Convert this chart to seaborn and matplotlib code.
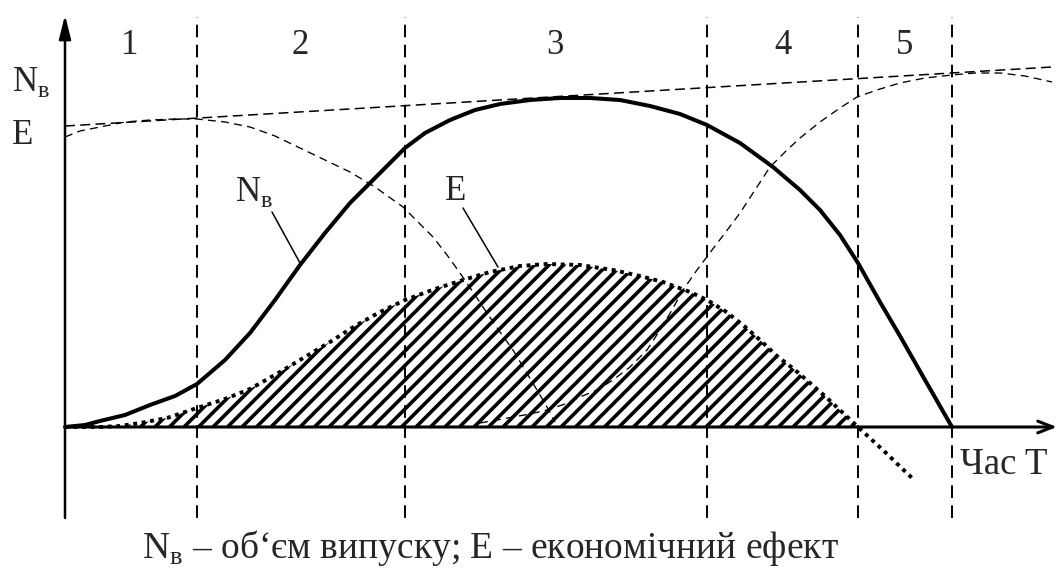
import matplotlib
matplotlib.use("Agg")
import matplotlib.pyplot as plt
import seaborn as sns
import numpy as np

sns.set_theme(style="white")
plt.rcParams["font.family"] = ["Liberation Serif", "DejaVu Serif"]
plt.rcParams["mathtext.fontset"] = "custom"
plt.rcParams["mathtext.rm"] = "Liberation Serif"

# ------------------------------
# data (time units / value units)
# ------------------------------
# output volume N_v
nv_t = [0, 2.0, 3.5, 6.0, 8.5, 11.0, 13.2, 16.0, 18.5, 21.0, 23.5, 26.0,
        28.5, 31.0, 34.0, 36.0, 38.5, 41.0, 43.5, 46.5, 49.5, 52.5, 55.5,
        58.5, 61.5, 64.2, 67.5, 70.8, 73.5, 75.5, 77.5, 79.3, 81.5, 83.5,
        86.0, 88.7]
nv_v = [0, 0.2, 0.6, 1.2, 2.2, 3.1, 4.3, 6.7, 9.4, 12.7, 16.2, 19.4,
        22.4, 24.9, 27.9, 29.4, 30.7, 31.7, 32.3, 32.7, 32.9, 32.9, 32.7,
        32.1, 31.3, 30.2, 28.4, 26.0, 23.7, 21.7, 19.2, 16.4, 12.5, 9.1,
        4.7, 0]

# economic effect E
e_t = [0, 3.5, 5.5, 7.5, 10.2, 13.2, 16.0, 18.5, 21.5, 23.5, 26.5, 29.0,
       31.5, 34.0, 37.0, 39.8, 42.5, 45.5, 48.2, 51.5, 54.8, 57.5, 59.8,
       62.5, 64.2, 66.0, 67.8, 69.5, 71.2, 73.0, 74.5, 76.2, 77.8, 79.3,
       82.0, 84.7]
e_v = [0, 0, 0.1, 0.4, 0.9, 1.9, 2.8, 3.8, 5.5, 6.7, 8.5, 10.1,
       11.5, 12.7, 13.8, 14.7, 15.5, 16.1, 16.3, 16.2, 15.7, 15.1, 14.5,
       13.5, 12.7, 11.6, 10.2, 8.7, 7.1, 5.7, 4.4, 2.9, 1.4, 0,
       -2.5, -5.1]

# thin dashed curves
fall_t = [0, 1.5, 3.5, 6.0, 8.5, 11.0, 13.2, 16.0, 18.5, 21.0, 23.5, 26.0,
          28.5, 31.0, 33.8, 35.5, 36.8, 38.2, 39.5, 41.0, 42.2, 43.5, 44.8,
          46.0, 47.2, 48.2, 49.0]
fall_v = [29.0, 29.6, 30.0, 30.5, 30.7, 30.8, 30.8, 30.5, 30.0, 29.1, 27.9,
          26.7, 25.5, 24.0, 22.0, 20.3, 19.0, 17.2, 15.4, 13.2, 11.4, 9.5,
          7.7, 5.7, 3.7, 2.0, 0.5]

rise_t = [41.5, 43.2, 44.8, 46.5, 48.2, 50.0, 51.5, 53.2, 54.8, 56.5, 58.2,
          59.5, 60.7, 61.8, 63.2, 64.7, 66.0, 67.5, 69.0, 70.5, 72.0, 73.5,
          75.5, 77.5, 79.2, 81.5, 83.5, 86.0, 88.7, 91.0, 93.5, 96.0, 98.7]
rise_v = [0.4, 0.7, 1.0, 1.3, 1.7, 2.3, 3.0, 3.7, 4.7, 6.0, 7.7,
          9.7, 11.7, 13.7, 15.7, 17.7, 19.4, 21.4, 23.7, 26.0, 27.5, 28.9,
          30.5, 31.9, 33.0, 33.8, 34.4, 34.9, 35.2, 35.4, 35.4, 35.1, 34.5]

env_t = [0, 98.7]
env_v = [30.1, 36.0]

stage_bounds = [13.2, 34.0, 64.2, 79.3, 88.7]
stage_labels = ["1", "2", "3", "4", "5"]
stage_label_t = [6.5, 23.5, 49.0, 71.8, 84.0]

fig = plt.figure(figsize=(10.57, 5.72), dpi=100)
ax = fig.add_axes([0, 0, 1, 1])
ax.set_xlim(-6.5, 99.2)
ax.set_ylim(-14.5, 42.7)
ax.set_axis_off()

# stage boundaries
for b in stage_bounds:
    ax.plot([b, b], [-9.1, 41.0], color="black", lw=1.4,
            linestyle=(0, (6.5, 3.8)), zorder=2)
for lab, t in zip(stage_labels, stage_label_t):
    ax.text(t, 38.2, lab, ha="center", va="center", fontsize=25)

# hatched economic effect area (diagonal stripes clipped to the area)
e_arr = np.array(e_v)
pos = e_arr >= 0
area = ax.fill_between(np.array(e_t)[pos], 0, e_arr[pos], facecolor="white",
                       linewidth=0, zorder=1)
clip = area.get_paths()[0]
for c in np.arange(-20, 80, 1.45):
    stripe, = ax.plot([c, c + 20], [0, 20], color="black", lw=2.6,
                      solid_capstyle="butt", zorder=1.5)
    stripe.set_clip_path(clip, ax.transData)

# thin dashed curves
sns.lineplot(x=env_t, y=env_v, ax=ax, color="black", lw=1.1,
             linestyle=(0, (6.5, 3.5)), estimator=None, sort=False, zorder=3)
sns.lineplot(x=fall_t, y=fall_v, ax=ax, color="black", lw=0.95,
             linestyle=(0, (6, 4)), estimator=None, sort=False, zorder=3)
sns.lineplot(x=rise_t, y=rise_v, ax=ax, color="black", lw=0.95,
             linestyle=(0, (6, 4)), estimator=None, sort=False, zorder=3)

# main curves
sns.lineplot(x=e_t, y=e_v, ax=ax, color="black", lw=2.8,
             linestyle=(0, (1, 1.2)), estimator=None, sort=False, zorder=4)
sns.lineplot(x=nv_t, y=nv_v, ax=ax, color="black", lw=2.9,
             estimator=None, sort=False, zorder=5)

# axes arrows
ax.annotate("", xy=(0, 41.2), xytext=(0, -9.1),
            arrowprops=dict(arrowstyle="-|>,head_length=1.2,head_width=0.3",
                            color="black", lw=1.8, shrinkA=0, shrinkB=0),
            zorder=6)
ax.annotate("", xy=(99.2, 0), xytext=(0, 0),
            arrowprops=dict(arrowstyle="->,head_length=0.9,head_width=0.35",
                            color="black", lw=2.2, shrinkA=0, shrinkB=0),
            zorder=6)

# labels
ax.text(-5.3, 34.5, r"N$_{\mathrm{в}}$", ha="left", va="center", fontsize=25)
ax.text(-5.3, 29.2, "E", ha="left", va="center", fontsize=25)
ax.text(89.5, -3.8, "Час T", ha="left", va="center", fontsize=26.5)

ax.text(17.0, 23.5, r"N$_{\mathrm{в}}$", ha="left", va="center", fontsize=25)
ax.plot([20.7, 23.5], [21.5, 16.4], color="black", lw=1.1)
ax.text(38.0, 23.5, "E", ha="left", va="center", fontsize=25)
ax.plot([39.8, 43.3], [21.9, 16.0], color="black", lw=1.1)

ax.text(42.5, -12.1, r"N$_{\mathrm{в}}$ – об‘єм випуску; E – економічний ефект",
        ha="center", va="center", fontsize=27)

fig.savefig("out.png", dpi=100)
plt.close(fig)
